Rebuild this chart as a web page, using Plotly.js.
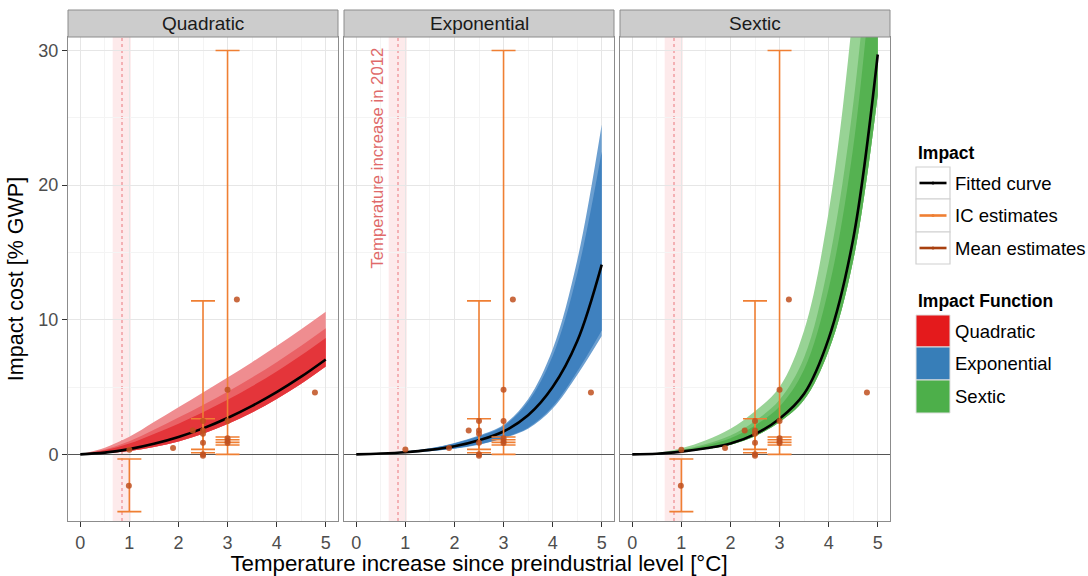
<!DOCTYPE html>
<html>
<head>
<meta charset="utf-8">
<script src="https://cdn.plot.ly/plotly-3.0.1.min.js"></script>
<style>html,body{margin:0;padding:0;background:#fff;}#chart{width:1088px;height:576px;}</style>
</head>
<body>
<div id="chart"></div>
<script>
// ---------- data ----------
const panels = ["Quadratic", "Exponential", "Sextic"];
const tempGrid = [0, 0.5, 1, 1.5, 2, 2.5, 3, 3.5, 4, 4.5, 5];

// Quadratic impact function
const quadFit   = [0, 0.13, 0.39, 0.78, 1.29, 1.93, 2.70, 3.60, 4.62, 5.77, 7.05];
const quadLo    = [0, 0.08, 0.25, 0.54, 0.96, 1.53, 2.25, 3.11, 4.11, 5.24, 6.52];
const quadHi90  = [0, 0.50, 1.30, 2.40, 3.50, 4.60, 5.70, 6.85, 8.05, 9.30, 10.60];
const quadHi75  = [0, 0.37, 0.98, 1.83, 2.73, 3.67, 4.65, 5.71, 6.85, 8.06, 9.36];
const quadHi50  = [0, 0.30, 0.80, 1.51, 2.28, 3.13, 4.05, 5.06, 6.16, 7.36, 8.65];

// Exponential impact function
const expFit    = [0, 0.06, 0.16, 0.33, 0.60, 1.05, 1.70, 2.90, 5.00, 8.40, 14.10];
const expLoOut  = [0, 0.04, 0.11, 0.24, 0.42, 0.72, 1.20, 1.90, 3.40, 5.90, 8.80];
const expHiOut  = [0, 0.08, 0.22, 0.45, 0.85, 1.40, 2.20, 4.10, 7.80, 14.40, 24.50];
const expLoIn   = [0, 0.045, 0.12, 0.25, 0.44, 0.75, 1.24, 1.98, 3.55, 6.15, 9.20];
const expHiIn   = [0, 0.075, 0.21, 0.43, 0.81, 1.34, 2.10, 3.90, 7.30, 13.40, 22.50];

// Sextic impact function
const sexFit    = [0, 0.04, 0.20, 0.45, 0.80, 1.50, 2.65, 4.50, 8.60, 16.00, 29.70];
const sexLo     = [0, 0.036, 0.18, 0.40, 0.72, 1.35, 2.40, 4.05, 7.70, 14.40, 26.70];
const sexHi90   = [0, 0.10, 0.45, 1.05, 1.90, 3.20, 5.00, 9.20, 18.00, 33.00, 56.00];
const sexHi75   = [0, 0.075, 0.34, 0.77, 1.40, 2.48, 4.05, 7.20, 14.20, 26.00, 45.10];
const sexHi50   = [0, 0.06, 0.29, 0.66, 1.20, 2.15, 3.55, 6.30, 12.30, 22.80, 40.70];

// IC estimates (intervals)
const icX_qs  = [1, 2.5, 2.5, 3, 3, 3];
const icLo_qs = [-4.25, 0.12, 0.37, 0, 0.69, 0.89];
const icHi_qs = [-0.35, 11.4, 2.65, 30, 1.29, 1.09];
const icX_e   = [2.5, 2.5, 3, 3, 3];
const icLo_e  = [0.12, 0.37, 0, 0.69, 0.89];
const icHi_e  = [11.4, 2.65, 30, 1.29, 1.09];

// Mean estimates (points)
const meanX_qs = [0.99, 1.0, 1.89, 2.29, 2.5, 2.5, 2.5, 2.5, 2.5, 2.5, 3.0, 3.0, 3.0, 3.0, 3.0, 3.19, 4.78];
const meanY_qs = [-2.33, 0.35, 0.47, 1.78, 2.47, 1.78, 1.53, 0.87, 0.0, -0.1, 4.8, 2.47, 1.2, 1.0, 0.85, 11.5, 4.6];
const meanX_e  = [1.0, 1.89, 2.29, 2.5, 2.5, 2.5, 2.5, 2.5, 2.5, 3.0, 3.0, 3.0, 3.0, 3.0, 3.19, 4.78];
const meanY_e  = [0.37, 0.47, 1.78, 2.47, 1.78, 1.53, 0.87, 0.0, -0.1, 4.8, 2.47, 1.2, 1.0, 0.85, 11.5, 4.6];

// temperature increase in 2012
const t2012 = 0.85, t2012Lo = 0.66, t2012Hi = 1.03;

const xTicks = [0, 1, 2, 3, 4, 5];
const yTicks = [0, 10, 20, 30];
const legendImpact = ["Fitted curve", "IC estimates", "Mean estimates"];
const legendFunction = ["Quadratic", "Exponential", "Sextic"];

// ---------- styles ----------
const FONT = "Liberation Sans, Arial, Helvetica, sans-serif";
const C_IC = "#EF7F33", C_MEAN = "#C0501E";
const C_RED = "#E41A1C", C_BLUE = "#377EB8", C_GREEN = "#4DAF4A";
const W = 1088, H = 576, ML = 68, MR = 198, MT = 37, MB = 55;
const PW = W - ML - MR, PH = H - MT - MB;
const px = X => (X - ML) / PW;
const py = Y => (H - MB - Y) / PH;

const traces = [];
function band(ax, lo, hi, color) {
  const xa = 'x' + ax, ya = 'y' + ax;
  traces.push({x: tempGrid, y: lo, xaxis: xa, yaxis: ya, mode: 'lines', line: {width: 0, shape: 'spline', color: color}, hoverinfo: 'skip', showlegend: false});
  traces.push({x: tempGrid, y: hi, xaxis: xa, yaxis: ya, mode: 'lines', fill: 'tonexty', fillcolor: color, line: {width: 0, shape: 'spline', color: color}, hoverinfo: 'skip', showlegend: false});
}
function fitted(ax, y) {
  traces.push({x: tempGrid, y: y, xaxis: 'x' + ax, yaxis: 'y' + ax, mode: 'lines', line: {color: '#000', width: 2.6, shape: 'spline'}, showlegend: false, name: 'Fitted curve'});
}
function ic(ax, xs, lo, hi) {
  traces.push({x: xs, y: hi, xaxis: 'x' + ax, yaxis: 'y' + ax, mode: 'markers', marker: {size: 2, color: 'rgba(0,0,0,0)'},
    error_y: {type: 'data', symmetric: false, array: hi.map(() => 0), arrayminus: hi.map((h, i) => h - lo[i]), color: C_IC, thickness: 1.6, width: 12},
    showlegend: false, name: 'IC estimates'});
}
function means(ax, xs, ys) {
  traces.push({x: xs, y: ys, xaxis: 'x' + ax, yaxis: 'y' + ax, mode: 'markers', marker: {size: 6, color: C_MEAN, opacity: 0.85}, showlegend: false, name: 'Mean estimates'});
}

// Quadratic
band('', quadLo, quadHi90, '#EF8D90');
band('', quadLo, quadHi75, '#EA6266');
band('', quadLo, quadHi50, '#E4353A');
fitted('', quadFit);
ic('', icX_qs, icLo_qs, icHi_qs);
means('', meanX_qs, meanY_qs);
// Exponential
band('2', expLoOut, expHiOut, '#6C9FD0');
band('2', expLoIn, expHiIn, '#3F81BF');
fitted('2', expFit);
ic('2', icX_e, icLo_e, icHi_e);
means('2', meanX_e, meanY_e);
// Sextic
band('3', sexLo, sexHi90, '#98D395');
band('3', sexLo, sexHi75, '#72C06E');
band('3', sexLo, sexHi50, '#55B251');
fitted('3', sexFit);
ic('3', icX_qs, icLo_qs, icHi_qs);
means('3', meanX_qs, meanY_qs);

const gap = 6 / PW, pwid = 270 / PW;
const domains = [[0, pwid], [pwid + gap, 2 * pwid + gap], [2 * pwid + 2 * gap, 1]];

const layout = {
  width: W, height: H,
  margin: {l: ML, r: MR, t: MT, b: MB},
  paper_bgcolor: '#fff', plot_bgcolor: '#fff',
  font: {family: FONT, color: '#000'},
  showlegend: false,
  shapes: [], annotations: []
};
const axN = ['', '2', '3'];
axN.forEach((n, i) => {
  layout['xaxis' + n] = {
    domain: domains[i], anchor: 'y' + n, range: [-0.25, 5.25],
    tickvals: xTicks, ticktext: xTicks.map(String), ticks: 'outside', ticklen: 5, tickcolor: '#333', tickwidth: 1,
    tickfont: {size: 18, color: '#4D4D4D', family: FONT},
    showgrid: true, gridcolor: '#E6E6E6', gridwidth: 1,
    minor: {dtick: 0.5, showgrid: true, gridcolor: '#F4F4F4', ticks: ''},
    zeroline: false, showline: true, mirror: true, linecolor: '#8C8C8C', linewidth: 1
  };
  layout['yaxis' + n] = {
    domain: [0, 1], anchor: 'x' + n, range: [-4.95, 31],
    tickvals: yTicks, ticktext: yTicks.map(String),
    ticks: i === 0 ? 'outside' : '', ticklen: 5, tickcolor: '#333', showticklabels: i === 0,
    tickfont: {size: 18, color: '#4D4D4D', family: FONT},
    showgrid: true, gridcolor: '#E6E6E6', gridwidth: 1,
    minor: {dtick: 5, showgrid: true, gridcolor: '#F4F4F4', ticks: ''},
    zeroline: true, zerolinecolor: '#555555', zerolinewidth: 1.2,
    showline: true, mirror: true, linecolor: '#8C8C8C', linewidth: 1
  };
  if (i > 0) layout['yaxis' + n].matches = 'y';
  const xr = 'x' + n, yr = 'y' + n;
  // 2012 temperature band and dotted line
  layout.shapes.push({type: 'rect', xref: xr, yref: yr + ' domain', x0: t2012Lo, x1: t2012Hi, y0: 0, y1: 1, fillcolor: 'rgba(228,26,28,0.09)', line: {width: 0}, layer: 'below'});
  layout.shapes.push({type: 'line', xref: xr, yref: yr + ' domain', x0: t2012, x1: t2012, y0: 0, y1: 1, line: {color: 'rgba(228,60,70,0.55)', width: 1.2, dash: 'dot'}, layer: 'below'});
  // strip
  layout.shapes.push({type: 'rect', xref: xr + ' domain', yref: 'paper', x0: 0, x1: 1, y0: py(37), y1: py(10), fillcolor: '#CCCCCC', line: {color: '#8C8C8C', width: 1}});
  layout.annotations.push({xref: xr + ' domain', yref: 'paper', x: 0.5, y: py(23.5), text: panels[i], showarrow: false, font: {size: 19, color: '#1A1A1A', family: FONT}, xanchor: 'center', yanchor: 'middle'});
});
layout.xaxis2.title = {text: 'Temperature increase since preindustrial level [°C]', font: {size: 22.3, color: '#000', family: FONT}, standoff: 3};
layout.yaxis.title = {text: 'Impact cost [% GWP]', font: {size: 21.5, color: '#000', family: FONT}, standoff: 8};

layout.annotations.push({xref: 'x2', yref: 'y2', x: 0.43, y: 22, text: 'Temperature increase in 2012', textangle: -90, showarrow: false, font: {size: 16.7, color: '#E06A6A', family: FONT}});

// ---------- legend (drawn) ----------
const LF = 18.5;
layout.annotations.push({xref: 'paper', yref: 'paper', x: px(916), y: py(153), text: '<b>Impact</b>', showarrow: false, xanchor: 'left', yanchor: 'middle', font: {size: 17.5, family: FONT, color: '#000'}});
const impColors = ['#000000', C_IC, '#A8400F'];
const rowsA = [[167, 199], [199, 232], [232, 264]];
legendImpact.forEach((lab, i) => {
  const [t, b] = rowsA[i], c = (t + b) / 2;
  layout.shapes.push({type: 'rect', xref: 'paper', yref: 'paper', x0: px(916), x1: px(950), y0: py(b), y1: py(t), fillcolor: '#fff', line: {color: '#D0D0D0', width: 1.2}});
  layout.shapes.push({type: 'line', xref: 'paper', yref: 'paper', x0: px(919.5), x1: px(946.5), y0: py(c), y1: py(c), line: {color: impColors[i], width: 2.6}});
  layout.shapes.push({type: 'circle', xref: 'paper', yref: 'paper', x0: px(931.5), x1: px(934.5), y0: py(c + 1.5), y1: py(c - 1.5), fillcolor: impColors[i], line: {width: 0}});
  layout.annotations.push({xref: 'paper', yref: 'paper', x: px(953), y: py(c), text: lab, showarrow: false, xanchor: 'left', yanchor: 'middle', font: {size: LF, family: FONT, color: '#000'}});
});
layout.annotations.push({xref: 'paper', yref: 'paper', x: px(916), y: py(301), text: '<b>Impact Function</b>', showarrow: false, xanchor: 'left', yanchor: 'middle', font: {size: 17.5, family: FONT, color: '#000'}});
const fnColors = [C_RED, C_BLUE, C_GREEN];
const rowsB = [[315, 347], [347, 380], [380, 413]];
legendFunction.forEach((lab, i) => {
  const [t, b] = rowsB[i], c = (t + b) / 2;
  layout.shapes.push({type: 'rect', xref: 'paper', yref: 'paper', x0: px(916), x1: px(950), y0: py(b), y1: py(t), fillcolor: fnColors[i], line: {color: '#E0E0E0', width: 1}});
  layout.annotations.push({xref: 'paper', yref: 'paper', x: px(953), y: py(c), text: lab, showarrow: false, xanchor: 'left', yanchor: 'middle', font: {size: LF, family: FONT, color: '#000'}});
});

Plotly.newPlot('chart', traces, layout, {staticPlot: true, displayModeBar: false});
</script>
</body>
</html>
